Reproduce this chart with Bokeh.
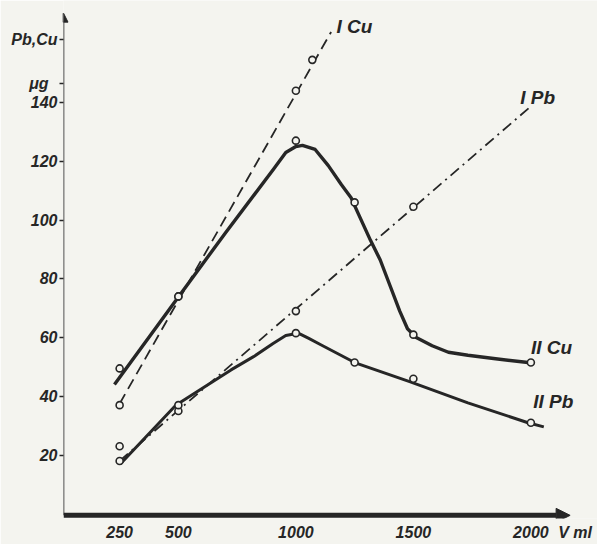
from bokeh.plotting import figure
from bokeh.models import Range1d, Arrow, NormalHead, Label, FixedTicker
from bokeh.embed import file_html
from bokeh.resources import INLINE

# ---- data ----
x_ticks = [250, 500, 1000, 1500, 2000]
y_ticks = [20, 40, 60, 80, 100, 120, 140]
x_unit_label = "V ml"
y_name_label = "Pb,Cu"
y_unit_label = "μg"

# measured points (circles)
icu_v = [250, 500, 1000, 1070]
icu_y = [37, 74, 144, 154.5]
iicu_v = [250, 500, 1000, 1250, 1500, 2000]
iicu_y = [49.5, 74, 127, 106, 61, 51.5]
ipb_v = [250, 500, 1000, 1500]
ipb_y = [18, 35, 69, 104.5]
iipb_v = [250, 500, 1000, 1250, 1500, 2000]
iipb_y = [23, 37, 61.5, 51.5, 46, 31]

# straight fitted lines (I series), endpoints
icu_line_v = [250, 1150]
icu_line_y = [37.5, 164]
ipb_line_v = [250, 1990]
ipb_line_y = [18, 138]

# hand-drawn curves (II series)
iicu_curve_v = [228, 500, 700, 907, 957, 1000, 1028, 1082, 1138, 1194, 1235, 1263,
                1318, 1359, 1400, 1442, 1475, 1512, 1580, 1649, 1732, 1850, 1988]
iicu_curve_y = [44, 73.8, 95.6, 117.5, 123, 125, 125.4, 124, 118.5, 112, 107.6, 102.6,
                93, 86.4, 77.8, 69, 63, 60, 57.2, 55, 54, 52.8, 51.5]
iipb_curve_v = [253, 489, 724, 820, 903, 957, 1010, 1055, 1110, 1250, 1484, 1732, 1988, 2055]
iipb_curve_y = [17, 37, 49, 53.5, 58, 60.7, 61.5, 59.7, 57.4, 51.5, 45, 37.8, 31, 29.6]

BG = "#f4f4ef"
INK = "#262626"
FONT = "Liberation Sans"

p = figure(width=597, height=544, output_backend="svg", toolbar_location=None,
           x_range=Range1d(11.15, 2283.5), y_range=Range1d(-1.57, 174.7),
           min_border_left=63, min_border_right=0, min_border_top=0, min_border_bottom=26,
           background_fill_color=BG, border_fill_color=BG)
p.outline_line_color = None
p.grid.visible = False

# axes (ticks and labels from Bokeh); axis titles placed as label overrides
x_unit_pos = 2188
y_name_pos = 161.5
y_unit_pos = 146.5
p.xaxis.ticker = FixedTicker(ticks=x_ticks + [x_unit_pos])
p.xaxis.major_label_overrides = {x_unit_pos: x_unit_label}
p.yaxis.ticker = FixedTicker(ticks=y_ticks + [y_unit_pos, y_name_pos])
p.yaxis.major_label_overrides = {y_unit_pos: y_unit_label + "  ", y_name_pos: y_name_label}
for ax in (p.xaxis, p.yaxis):
    ax.axis_line_color = None
    ax.minor_tick_line_color = None
    ax.major_label_text_font = FONT
    ax.major_label_text_font_style = "bold italic"
    ax.major_label_text_color = INK
    ax.major_label_text_font_size = "16px"
p.xaxis.major_tick_line_color = None
p.xaxis.major_tick_out = 0
p.xaxis.major_tick_in = 0
p.xaxis.major_label_standoff = 5
p.yaxis.major_tick_line_color = INK
p.yaxis.major_tick_line_width = 1.5
p.yaxis.major_tick_out = 4
p.yaxis.major_tick_in = 0
p.yaxis.major_label_standoff = 2

# axis arrows
x0 = p.x_range.start
p.add_layout(Arrow(x_start=x0, y_start=-0.5, x_end=2167, y_end=-0.5,
                   line_color=INK, line_width=5,
                   end=NormalHead(size=14, fill_color=INK, line_color=INK)))
p.add_layout(Arrow(x_start=x0, y_start=-0.5, x_end=x0, y_end=170.4,
                   line_color=INK, line_width=1.6,
                   end=NormalHead(size=9, fill_color=INK, line_color=INK)))

# lines
p.line(icu_line_v, icu_line_y, line_color=INK, line_width=1.8, line_dash="11 6")
p.line(ipb_line_v, ipb_line_y, line_color=INK, line_width=1.8, line_dash="11 5 2 5")
p.line(iicu_curve_v, iicu_curve_y, line_color=INK, line_width=3.4, line_join="round")
p.line(iipb_curve_v, iipb_curve_y, line_color=INK, line_width=3, line_join="round")

# measured points
for vv, yy in ((icu_v, icu_y), (iicu_v, iicu_y), (ipb_v, ipb_y), (iipb_v, iipb_y)):
    p.scatter(vv, yy, size=7, marker="circle", fill_color=BG, line_color=INK, line_width=1.6)

# series names
def lab(x, y, t, size="19px"):
    p.add_layout(Label(x=x, y=y, text=t, text_font=FONT, text_font_style="bold italic",
                       text_font_size=size, text_color=INK, text_align="left",
                       text_baseline="middle"))

lab(1173, 166, "I Cu")
lab(1955, 141.6, "I Pb")
lab(2000, 56.7, "II Cu")
lab(2010, 38.2, "II Pb")

open("out.html", "w").write(file_html(p, INLINE))
